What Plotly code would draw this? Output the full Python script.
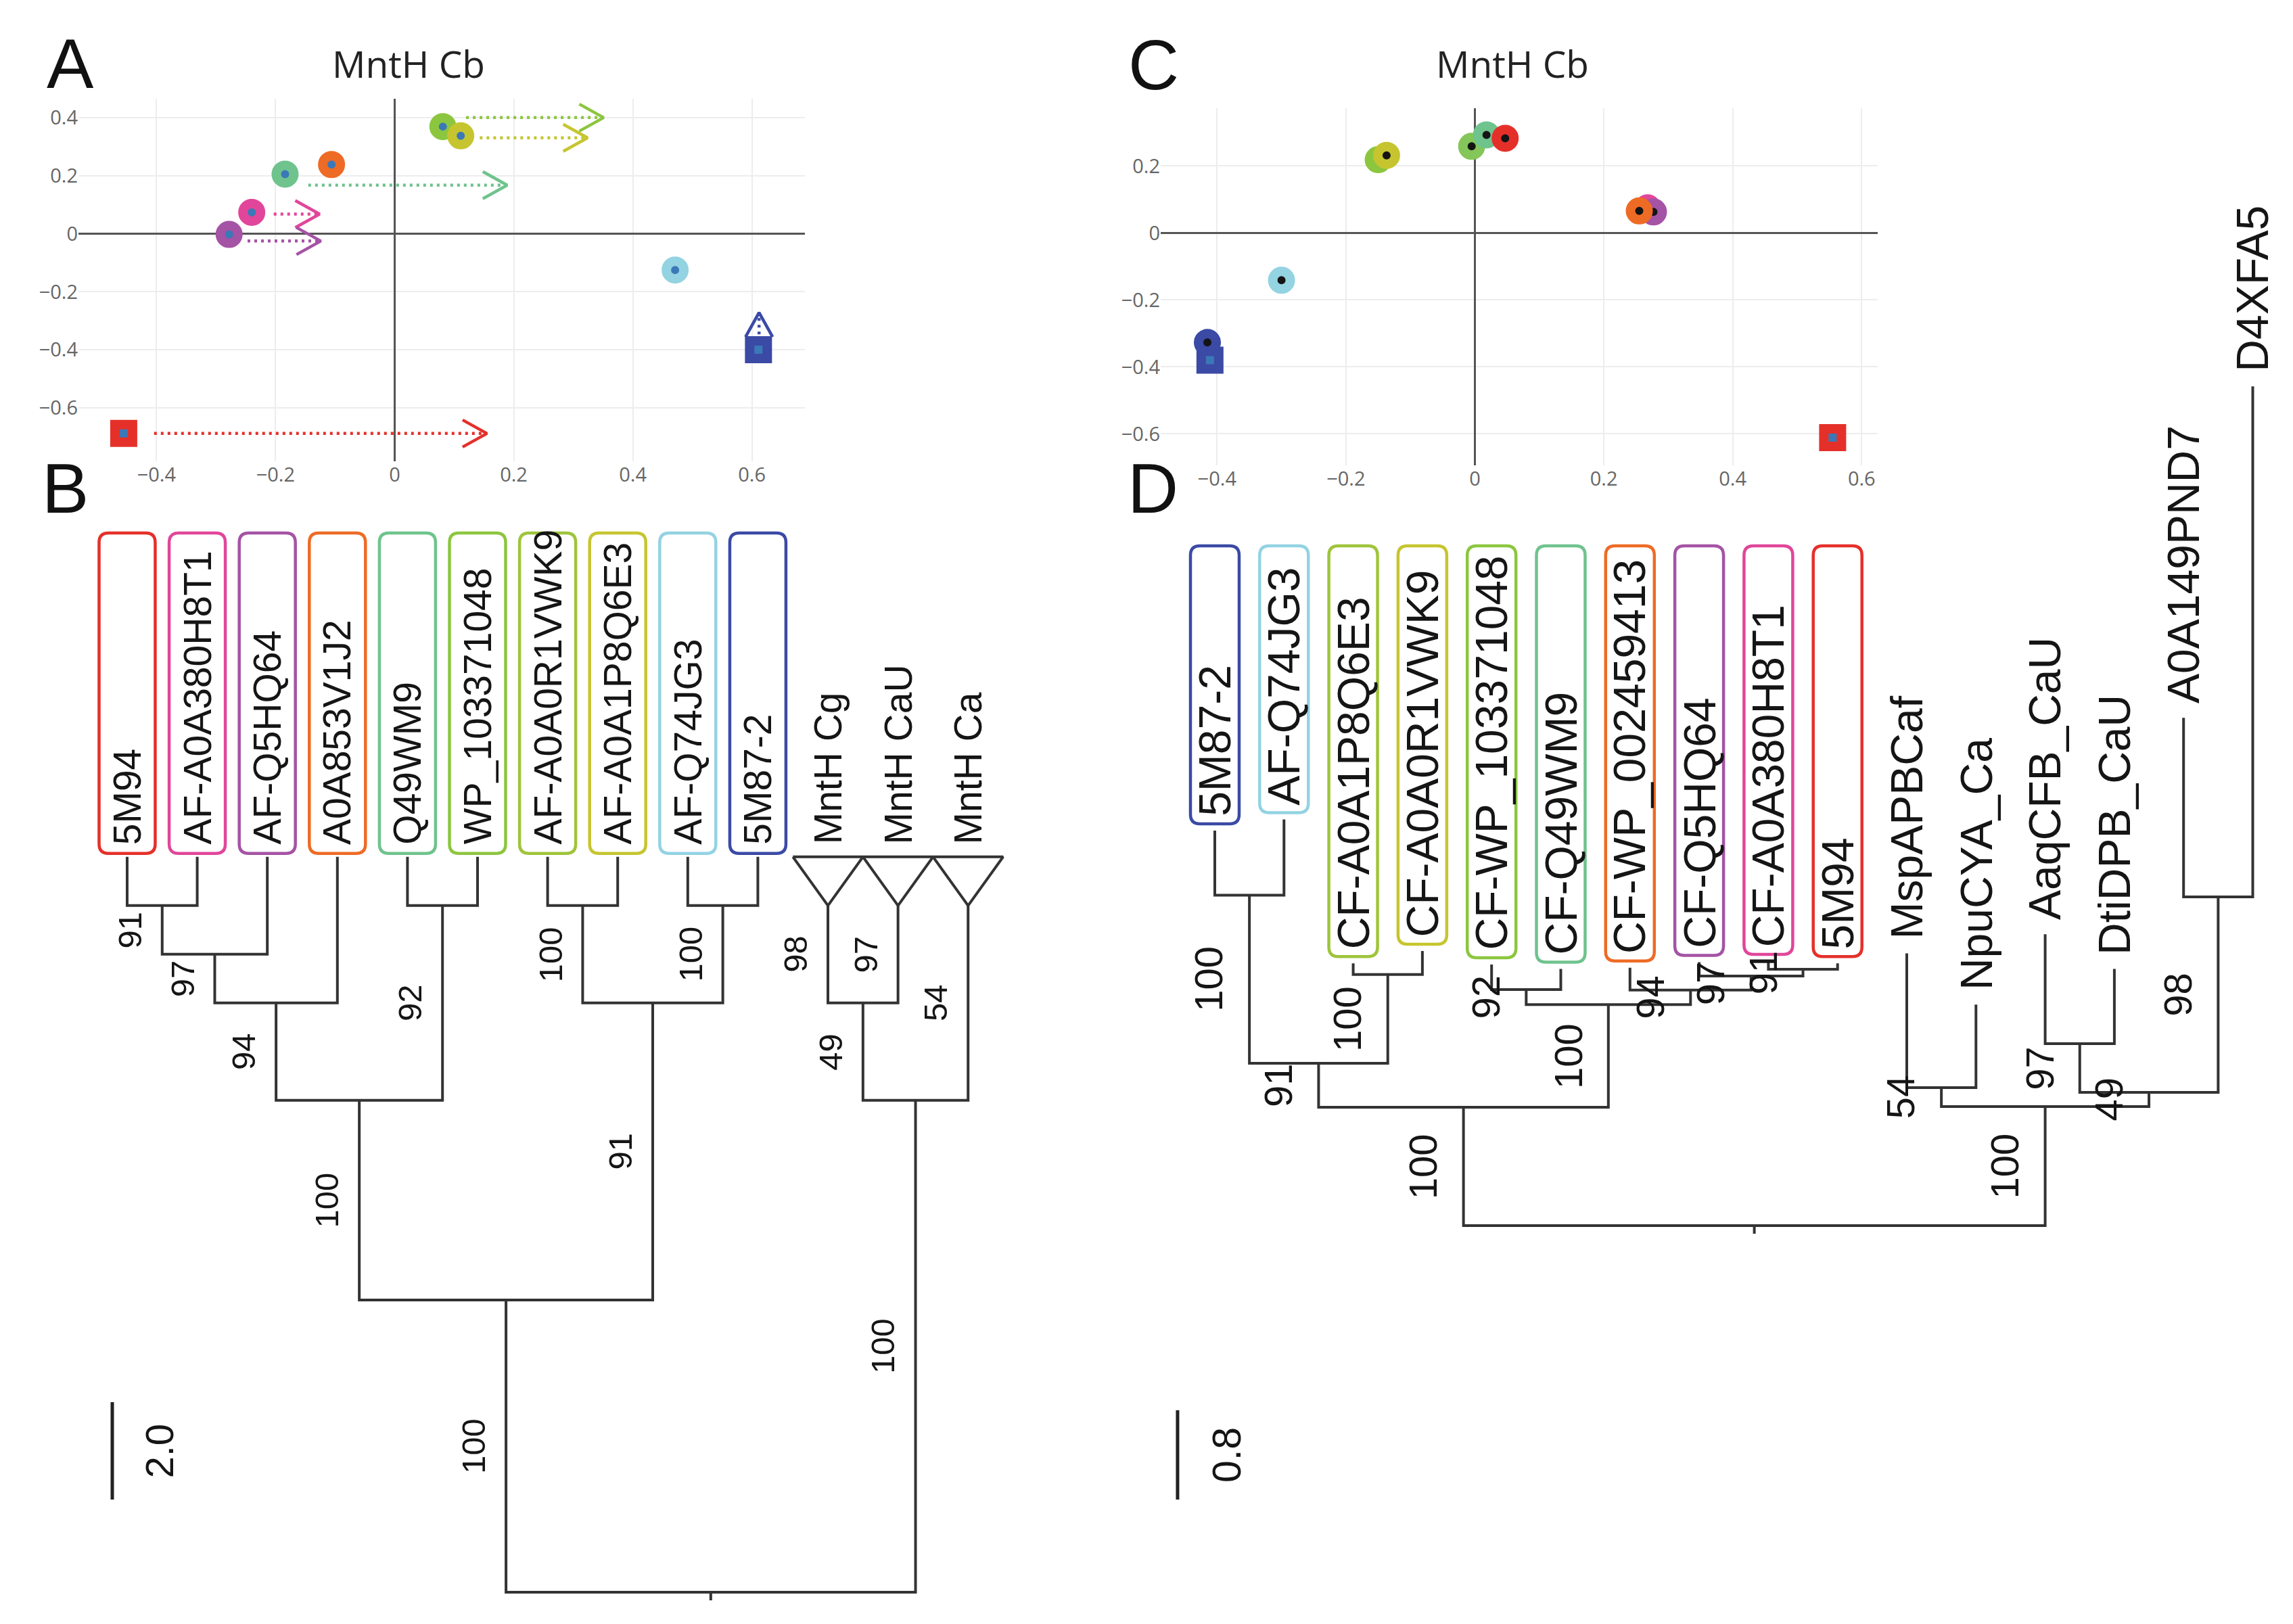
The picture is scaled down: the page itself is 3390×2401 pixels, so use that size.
import plotly.graph_objects as go

W, H = 3390, 2401

# ---------------- colours ----------------
RED, PINK, PURPLE, ORANGE = "#e5302a", "#e1469a", "#a553a5", "#ee6b25"
SEA, LGREEN, YGREEN, OLIVE = "#6fc38d", "#8cc63f", "#9fc43b", "#c6c52f"
LGREEN2 = "#84c65a"
LBLUE, DBLUE = "#93d3e2", "#3b4aa5"
DOTBLUE, DOTBLACK = "#3b78b7", "#141414"

# ---------------- Panel A data ----------------
A_x = [0.081, 0.111, -0.106, -0.184, -0.240, -0.278, 0.471, 0.611, -0.455]
A_y = [0.370, 0.338, 0.239, 0.206, 0.074, -0.002, -0.125, -0.400, -0.689]
A_col = [LGREEN, OLIVE, ORANGE, SEA, PINK, PURPLE, LBLUE, DBLUE, RED]
A_sym = ["circle"] * 7 + ["square", "square"]

A_arrow_x0 = [0.120, 0.143, -0.145, -0.203, -0.247, -0.404, 0.612]
A_arrow_x1 = [0.351, 0.324, 0.189, -0.126, -0.124, 0.155, 0.612]
A_arrow_y0 = [0.401, 0.331, 0.168, 0.068, -0.025, -0.689, -0.370]
A_arrow_y1 = [0.401, 0.331, 0.168, 0.068, -0.025, -0.689, -0.272]
A_arrow_col = [LGREEN, OLIVE, SEA, PINK, PURPLE, RED, DBLUE]

# ---------------- Panel C data ----------------
C_x = [-0.150, -0.137, -0.005, 0.018, 0.047, 0.268, 0.277, 0.255, -0.300, -0.415, -0.411, 0.555]
C_y = [0.219, 0.232, 0.259, 0.293, 0.283, 0.075, 0.063, 0.066, -0.141, -0.327, -0.380, -0.611]
C_col = [LGREEN, OLIVE, LGREEN2, SEA, RED, PINK, PURPLE, ORANGE, LBLUE, DBLUE, DBLUE, RED]
C_sym = ["circle"] * 10 + ["square", "square"]

# ---------------- Tree B data ----------------
B_labels = ["5M94", "AF-A0A380H8T1", "AF-Q5HQ64", "A0A853V1J2", "Q49WM9", "WP_103371048",
            "AF-A0A0R1VWK9", "AF-A0A1P8Q6E3", "AF-Q74JG3", "5M87-2",
            "MntH Cg", "MntH CaU", "MntH Ca"]
B_box_col = [RED, PINK, PURPLE, ORANGE, SEA, LGREEN, YGREEN, OLIVE, LBLUE, DBLUE, None, None, None]
B_leaf_depth = [15.1] * 10 + [14.1, 14.1, 14.1]
B_collapsed = [False] * 10 + [True, True, True]
B_clade_tip = 15.1
B_leaf_support = [None] * 10 + [98, 97, 54]
B_children = [(0, 1), (13, 2), (14, 3), (4, 5), (15, 16), (6, 7), (8, 9), (18, 19),
              (17, 20), (10, 11), (22, 12), (21, 23)]
B_node_depth = [14.1, 13.1, 12.1, 14.1, 10.1, 14.1, 14.1, 12.1, 6.0, 12.1, 10.1, 0.0]
B_node_support = [91, 97, 94, 92, 100, 100, 100, 91, 100, 49, 100, None]
B_scale = 2.0

# ---------------- Tree D data ----------------
D_labels = ["5M87-2", "AF-Q74JG3", "CF-A0A1P8Q6E3", "CF-A0A0R1VWK9", "CF-WP_103371048",
            "CF-Q49WM9", "CF-WP_002459413", "CF-Q5HQ64", "CF-A0A380H8T1", "5M94",
            "MspAPBCaf", "NpuCYA_Ca", "AaqCFB_CaU", "DtiDPB_CaU", "A0A149PND7", "D4XFA5"]
D_box_col = [DBLUE, LBLUE, YGREEN, OLIVE, LGREEN, SEA, ORANGE, PURPLE, PINK, RED,
             None, None, None, None, None, None]
D_leaf_depth = [3.54, 3.64, 2.35, 2.46, 2.34, 2.30, 2.31, 2.36, 2.37, 2.35,
                2.44, 1.98, 2.61, 2.30, 4.55, 7.52]
D_children = [(0, 1), (2, 3), (16, 17), (4, 5), (8, 9), (7, 20), (6, 21), (19, 22),
              (18, 23), (10, 11), (12, 13), (14, 15), (26, 27), (25, 28), (24, 29)]
D_node_depth = [2.96, 2.25, 1.455, 2.115, 2.297, 2.236, 2.11, 1.98, 1.06,
                1.236, 1.63, 2.945, 1.194, 1.067, 0.0]
D_node_support = [100, 100, 91, 92, 91, 97, 94, 100, 100, 54, 97, 98, 49, 100, None]
D_scale = 0.8

# ---------------- axes geometry (pixels) ----------------
A_dom_x, A_rng_x = (108, 1182), (-0.531, 0.689)
A_dom_y, A_rng_y = (138, 674), (-0.785, 0.466)
C_dom_x, C_rng_x = (1708, 2768), (-0.4874, 0.6249)
C_dom_y, C_rng_y = (151.5, 680), (-0.694, 0.3737)
B_dom_x, B_rng_x = (60, 1540), (-1.158, 13.127)
B_dom_y, B_rng_y = (690, 2380), (-0.472, 23.0)
D_dom_x, D_rng_x = (1660, 3380), (-1.251, 15.562)
D_dom_y, D_rng_y = (250, 2380), (-3.491, 9.418)


def kx(dom, rng):
    return (dom[1] - dom[0]) / (rng[1] - rng[0])


def xdom(d):
    return [d[0] / W, d[1] / W]


def ydom(d):
    return [1 - d[1] / H, 1 - d[0] / H]


LABF = "Liberation Sans, Arial, sans-serif"
SANS = "Liberation Sans, Arial, sans-serif"
TICKF = "Open Sans, Liberation Sans, sans-serif"
LINE = "#333333"

fig = go.Figure()


# ================= Scatter panels =================
def add_arrows(xs0, ys0, xs1, ys1, cols, xa, ya, kxv, kyv):
    for x0, y0, x1, y1, c in zip(xs0, ys0, xs1, ys1, cols):
        fig.add_trace(go.Scatter(x=[x0, x1], y=[y0, y1], mode="lines", xaxis=xa, yaxis=ya,
                                 line=dict(color=c, width=4.5, dash="4px,6px"), hoverinfo="skip"))
        dxp, dyp = (x1 - x0) * kxv, (y1 - y0) * kyv
        n = (dxp ** 2 + dyp ** 2) ** 0.5
        ux, uy = dxp / n, dyp / n
        px_, py_ = -uy, ux
        back, half = 36, 20
        a1 = (x1 + (-back * ux + half * px_) / kxv, y1 + (-back * uy + half * py_) / kyv)
        a2 = (x1 + (-back * ux - half * px_) / kxv, y1 + (-back * uy - half * py_) / kyv)
        fig.add_trace(go.Scatter(x=[a1[0], x1, a2[0]], y=[a1[1], y1, a2[1]], mode="lines",
                                 xaxis=xa, yaxis=ya, line=dict(color=c, width=4.5),
                                 hoverinfo="skip"))


add_arrows(A_arrow_x0, A_arrow_y0, A_arrow_x1, A_arrow_y1, A_arrow_col, "x", "y",
           kx(A_dom_x, A_rng_x), kx(A_dom_y, A_rng_y))

fig.add_trace(go.Scatter(
    x=A_x, y=A_y, mode="markers", xaxis="x", yaxis="y",
    marker=dict(symbol=A_sym, size=26, color=DOTBLUE, line=dict(color=A_col, width=14))))

C_inner = [DOTBLACK if s == "circle" else DOTBLUE for s in C_sym]
fig.add_trace(go.Scatter(
    x=C_x, y=C_y, mode="markers", xaxis="x2", yaxis="y2",
    marker=dict(symbol=C_sym, size=26, color=C_inner, line=dict(color=C_col, width=14))))

sc_axis = dict(showgrid=True, gridcolor="#ededed", gridwidth=1.5, zeroline=True,
               zerolinecolor="#555555", zerolinewidth=2.5, showline=False, ticks="",
               tickfont=dict(family=TICKF, size=29, color="#666666"), dtick=0.2, tick0=0,
               fixedrange=True)

# ================= Trees =================
annotations = []
shapes = []


def draw_tree(labels, box_col, leaf_depth, children, node_depth, node_support,
              xa, ya, dom_x, rng_x, dom_y, rng_y, opts):
    kxv, kyv = kx(dom_x, rng_x), kx(dom_y, rng_y)
    n = len(labels)
    xs = list(range(n)) + [None] * len(children)
    depth = list(leaf_depth) + list(node_depth)
    parent = {}
    for k, (a, b) in enumerate(children):
        xs[n + k] = (xs[a] + xs[b]) / 2
        parent[a] = n + k
        parent[b] = n + k
    lx, ly = [], []
    for k, (a, b) in enumerate(children):
        dn = depth[n + k]
        lx += [xs[a], xs[a], xs[b], xs[b], None]
        ly += [depth[a], dn, dn, depth[b], None]
    root = n + len(children) - 1
    lx += [xs[root], xs[root], None]
    ly += [depth[root], depth[root] - opts["root_tick"] / kyv, None]
    # collapsed clades (triangles)
    for i in range(n):
        if opts.get("collapsed") and opts["collapsed"][i]:
            lx += [xs[i] - 0.5, xs[i] + 0.5, xs[i], xs[i] - 0.5, None]
            ly += [opts["clade_tip"], opts["clade_tip"], depth[i], opts["clade_tip"], None]
    fig.add_trace(go.Scatter(x=lx, y=ly, mode="lines", xaxis=xa, yaxis=ya,
                             line=dict(color=LINE, width=4), hoverinfo="skip"))
    # leaf labels and boxes
    top_d = rng_y[1] - (opts["box_top_px"] - dom_y[0]) / kyv
    for i, name in enumerate(labels):
        tip = depth[i]
        if opts.get("collapsed") and opts["collapsed"][i]:
            tip = opts["clade_tip"]
        annotations.append(dict(x=xs[i], y=tip, xref=xa, yref=ya, text=name, textangle=-90,
                                showarrow=False, xanchor="center", yanchor="bottom",
                                yshift=opts["text_gap"],
                                font=dict(family=LABF, size=opts["leaf_size"], color="#151515")))
        if box_col[i]:
            hw = opts["box_hw"] / kxv
            x0, x1 = xs[i] - hw, xs[i] + hw
            y0 = tip + opts["box_gap"] / kyv
            y1 = top_d
            rx, ry = 14 / kxv, 14 / kyv
            path = (f"M {x0+rx},{y0} L {x1-rx},{y0} Q {x1},{y0} {x1},{y0+ry} "
                    f"L {x1},{y1-ry} Q {x1},{y1} {x1-rx},{y1} L {x0+rx},{y1} "
                    f"Q {x0},{y1} {x0},{y1-ry} L {x0},{y0+ry} Q {x0},{y0} {x0+rx},{y0} Z")
            shapes.append(dict(type="path", path=path, xref=xa, yref=ya,
                               line=dict(color=box_col[i], width=4.5), fillcolor="rgba(0,0,0,0)"))
    # support values
    supports = list(opts.get("leaf_support", [None] * n)) + list(node_support)
    for j, s in enumerate(supports):
        if s is None or j not in parent:
            continue
        dj = depth[j]
        dp = depth[parent[j]]
        annotations.append(dict(x=xs[j], y=(dj + dp) / 2, xref=xa, yref=ya, text=str(s),
                                textangle=-90, showarrow=False, xanchor="center",
                                yanchor="middle", xshift=opts["sup_shift"],
                                font=dict(family=LABF, size=opts["sup_size"], color="#151515")))
    # scale bar
    sx = opts["scale_x"]
    sb0 = rng_y[1] - (opts["scale_bottom_px"] - dom_y[0]) / kyv
    fig.add_trace(go.Scatter(x=[sx, sx], y=[sb0, sb0 + opts["scale"]], mode="lines",
                             xaxis=xa, yaxis=ya, line=dict(color="#222222", width=5),
                             hoverinfo="skip"))
    annotations.append(dict(x=sx, y=sb0 + opts["scale"] / 2, xref=xa, yref=ya,
                            text=f"{opts['scale']:.1f}", textangle=-90, showarrow=False,
                            xanchor="left", yanchor="middle", xshift=opts["scale_text_shift"],
                            font=dict(family=LABF, size=opts["scale_size"], color="#151515")))


draw_tree(B_labels, B_box_col, B_leaf_depth, B_children, B_node_depth, B_node_support,
          "x3", "y3", B_dom_x, B_rng_x, B_dom_y, B_rng_y,
          dict(collapsed=B_collapsed, clade_tip=B_clade_tip, leaf_support=B_leaf_support,
               root_tick=12, box_top_px=780, box_gap=5, box_hw=41.5, text_gap=16,
               leaf_size=57, sup_size=49, sup_shift=-48, scale=B_scale, scale_x=-0.212,
               scale_bottom_px=2209, scale_text_shift=34, scale_size=58))

draw_tree(D_labels, D_box_col, D_leaf_depth, D_children, D_node_depth, D_node_support,
          "x4", "y4", D_dom_x, D_rng_x, D_dom_y, D_rng_y,
          dict(root_tick=12, box_top_px=799, box_gap=10, box_hw=36, text_gap=19,
               leaf_size=66, sup_size=58, sup_shift=-60, scale=D_scale, scale_x=-0.538,
               scale_bottom_px=2209, scale_text_shift=38, scale_size=59))

# ================= Titles / letters =================
for txt, px, py in [("A", 96, 86), ("B", 88, 714), ("C", 1697, 88), ("D", 1696, 714)]:
    annotations.append(dict(x=px / W, y=1 - py / H, xref="paper", yref="paper", text=txt,
                            showarrow=False, xanchor="center", yanchor="middle",
                            font=dict(family=SANS, size=104, color="#111111")))
for px, py in [(596, 86), (2228, 86)]:
    annotations.append(dict(x=px / W, y=1 - py / H, xref="paper", yref="paper", text="MntH Cb",
                            showarrow=False, xanchor="center", yanchor="middle",
                            font=dict(family=TICKF, size=55, color="#222222")))

hidden = dict(visible=False, fixedrange=True)
fig.update_layout(
    width=W, height=H, margin=dict(l=0, r=0, t=0, b=0),
    paper_bgcolor="white", plot_bgcolor="rgba(0,0,0,0)", showlegend=False,
    xaxis=dict(sc_axis, domain=xdom(A_dom_x), range=list(A_rng_x), anchor="y"),
    yaxis=dict(sc_axis, domain=ydom(A_dom_y), range=list(A_rng_y), anchor="x"),
    xaxis2=dict(sc_axis, domain=xdom(C_dom_x), range=list(C_rng_x), anchor="y2"),
    yaxis2=dict(sc_axis, domain=ydom(C_dom_y), range=list(C_rng_y), anchor="x2"),
    xaxis3=dict(hidden, domain=xdom(B_dom_x), range=list(B_rng_x), anchor="y3"),
    yaxis3=dict(hidden, domain=ydom(B_dom_y), range=list(B_rng_y), anchor="x3"),
    xaxis4=dict(hidden, domain=xdom(D_dom_x), range=list(D_rng_x), anchor="y4"),
    yaxis4=dict(hidden, domain=ydom(D_dom_y), range=list(D_rng_y), anchor="x4"),
    annotations=annotations, shapes=shapes,
)

fig.write_html("out.html")
